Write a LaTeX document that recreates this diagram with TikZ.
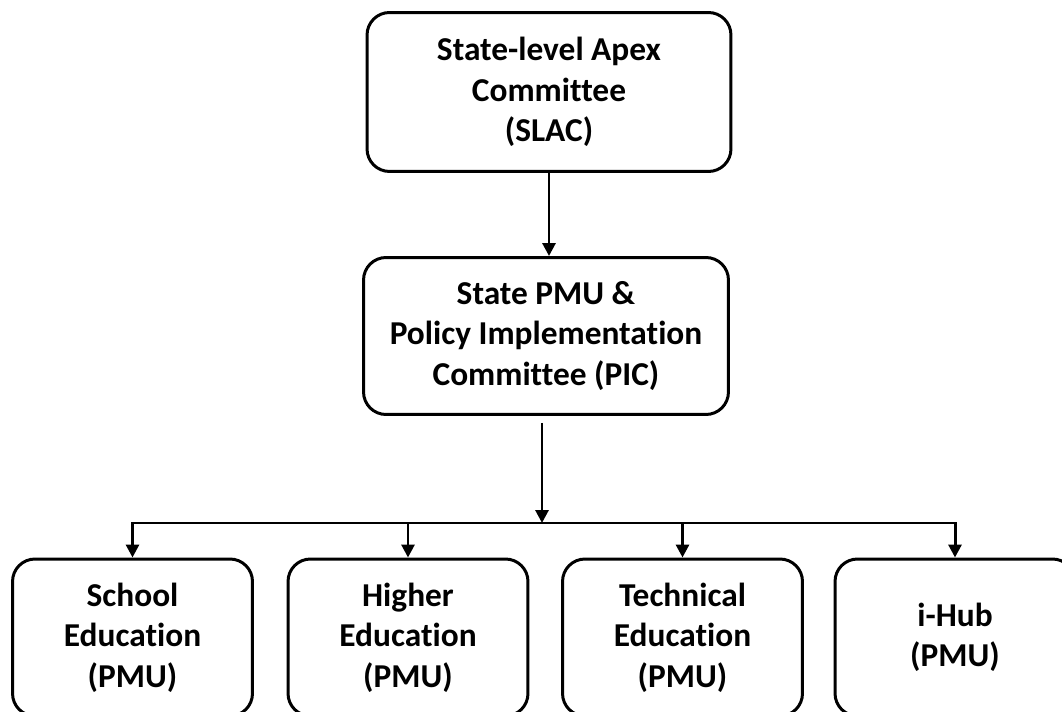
\documentclass[tikz,border=0pt]{standalone}
\usepackage{fontspec}
\setmainfont{Carlito}[Ligatures=NoCommon]
\usetikzlibrary{arrows.meta}
\begin{document}
\begin{tikzpicture}[x=0.02cm,y=-0.02cm,
    unitbox/.style={draw,line width=1.7pt,rounded corners=0.45cm,align=center,inner sep=0pt,
        font=\bfseries\fontsize{19}{23}\selectfont},
    link/.style={line width=1.7pt,-{Triangle[length=2.6mm,width=2.6mm]}}]

    \useasboundingbox (0,0) rectangle (1062,712);

    % Committees
    \node[unitbox,minimum width=7.28cm,minimum height=3.18cm] (slac) at (549,92) {State-level Apex\\Committee\\(SLAC)};
    \node[unitbox,minimum width=7.3cm,minimum height=3.14cm] (pic) at (546,336) {State PMU \&\\Policy Implementation\\Committee (PIC)};

    % PMUs
    \node[unitbox,minimum width=4.8cm,minimum height=3.14cm] (school) at (132.5,637.5) {School\\Education\\(PMU)};
    \node[unitbox,minimum width=4.8cm,minimum height=3.14cm] (higher) at (408,637.5) {Higher\\Education\\(PMU)};
    \node[unitbox,minimum width=4.8cm,minimum height=3.14cm] (technical) at (682.5,637.5) {Technical\\Education\\(PMU)};
    \node[unitbox,minimum width=4.8cm,minimum height=3.14cm] (ihub) at (955,637.5) {i-Hub\\(PMU)};

    % Connectors
    \draw[link] (slac.south) -- (slac.south |- pic.north);
    \coordinate (pictail) at (542,423);
    \coordinate (split) at (542,523);
    \draw[link] (pictail) -- (split);
    \draw[line width=1.7pt,line cap=rect] (school.north |- split) -- (ihub.north |- split);
    \foreach \u in {school,higher,technical,ihub}
        \draw[link] (\u.north |- split) -- (\u.north);

\end{tikzpicture}
\end{document}
